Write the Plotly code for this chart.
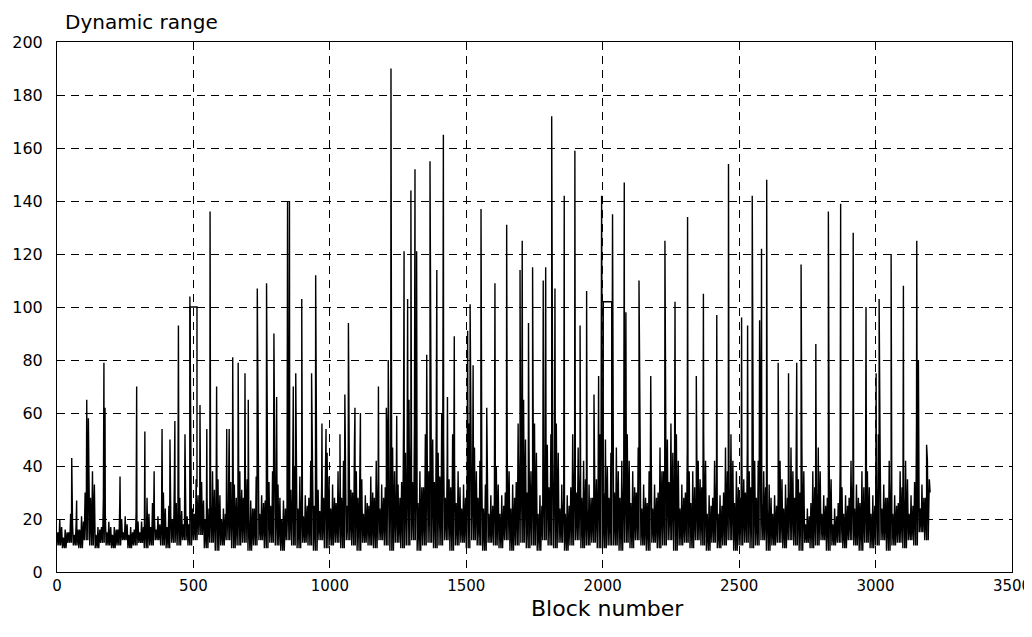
import plotly.graph_objects as go

# Envelope of the dense trace, read per 20-block window:
#   trough = bottom of the trace; body, mid, crest = heights of the ordinary strokes
window_step = 20
trough_values = [
    10, 9, 11, 10, 9, 12, 10, 9, 11, 10, 9, 10, 12, 9, 10, 11, 9, 10, 12, 10,
    9, 11, 10, 12, 10, 12, 14, 9, 11, 8, 10, 12, 9, 10, 11, 8, 10, 12, 9, 11,
    10, 8, 12, 10, 9, 11, 10, 8, 12, 9, 10, 11, 9, 12, 10, 8, 11, 10, 9, 12,
    10, 8, 11, 9, 10, 12, 8, 10, 11, 9, 10, 12, 8, 10, 11, 9, 12, 10, 8, 11,
    10, 9, 12, 8, 10, 11, 9, 10, 8, 12, 10, 9, 11, 8, 10, 12, 9, 10, 11, 9,
    9, 10, 10, 8, 11, 9, 12, 10, 8, 11, 9, 10, 12, 8, 10, 11, 9, 12, 10, 8,
    11, 9, 10, 12, 8, 10, 11, 9, 10, 12, 8, 10, 11, 9, 12, 10, 8, 11, 9, 10,
    12, 8, 10, 11, 9, 12, 10, 8, 11, 9, 10, 12, 8, 10, 11, 9, 12, 10, 15, 12,
    30,
]
body_values = [
    15, 13, 15, 14, 16, 30, 28, 14, 17, 15, 14, 16, 15, 14, 16, 15, 18, 17, 16, 18,
    17, 20, 19, 18, 18, 22, 22, 20, 25, 24, 20, 26, 24, 25, 28, 20, 24, 22, 27, 25,
    23, 20, 25, 27, 24, 21, 28, 25, 23, 28, 24, 26, 28, 25, 30, 28, 22, 25, 28, 24,
    32, 30, 24, 34, 38, 34, 26, 32, 38, 34, 36, 28, 32, 26, 24, 34, 30, 28, 24, 22,
    27, 22, 30, 24, 34, 38, 30, 34, 22, 36, 32, 34, 24, 22, 32, 30, 28, 24, 28, 32,
    30, 28, 30, 28, 32, 26, 30, 24, 26, 24, 30, 38, 34, 32, 24, 30, 26, 28, 32, 22,
    28, 22, 30, 32, 26, 28, 30, 32, 28, 26, 24, 22, 28, 24, 30, 28, 30, 18, 26, 30,
    22, 28, 18, 26, 22, 28, 24, 26, 26, 22, 32, 24, 28, 22, 26, 28, 22, 34, 24, 28,
]
mid_values = [
    17, 15, 18, 16, 19, 38, 33, 16, 22, 17, 16, 20, 18, 15, 19, 17, 22, 21, 18, 24,
    21, 26, 23, 21, 24, 29, 27, 24, 31, 29, 22, 34, 28, 31, 35, 24, 30, 26, 34, 31,
    28, 24, 31, 33, 30, 25, 35, 31, 28, 36, 28, 32, 35, 31, 38, 35, 26, 30, 35, 28,
    42, 38, 28, 45, 50, 44, 32, 42, 50, 45, 48, 35, 42, 32, 28, 45, 38, 35, 28, 25,
    33, 25, 38, 28, 45, 50, 38, 45, 25, 48, 42, 45, 28, 25, 42, 38, 35, 28, 35, 42,
    40, 36, 38, 35, 42, 32, 38, 28, 32, 28, 38, 50, 45, 42, 28, 38, 32, 35, 42, 25,
    35, 25, 38, 42, 32, 35, 38, 42, 35, 32, 28, 25, 35, 28, 38, 35, 38, 21, 32, 38,
    25, 35, 21, 32, 25, 35, 28, 32, 32, 25, 42, 28, 35, 25, 32, 35, 25, 45, 28, 35,
]
crest_values = [
    20, 16, 22, 18, 21, 45, 38, 17, 28, 19, 17, 26, 21, 17, 23, 19, 28, 26, 21, 30,
    25, 33, 28, 24, 30, 35, 34, 28, 38, 35, 24, 42, 33, 38, 42, 27, 36, 29, 42, 38,
    33, 27, 38, 40, 36, 29, 42, 38, 33, 45, 33, 38, 42, 38, 47, 42, 29, 36, 42, 33,
    52, 47, 33, 56, 65, 56, 38, 52, 65, 56, 60, 42, 52, 38, 33, 56, 47, 42, 33, 29,
    40, 29, 47, 33, 56, 65, 47, 56, 29, 60, 52, 56, 33, 29, 52, 47, 42, 33, 42, 52,
    50, 45, 47, 42, 52, 38, 47, 33, 38, 33, 47, 65, 56, 52, 33, 47, 38, 42, 52, 29,
    42, 29, 47, 52, 38, 42, 47, 52, 42, 38, 33, 29, 42, 33, 47, 42, 47, 24, 38, 47,
    29, 42, 24, 38, 29, 42, 33, 38, 38, 29, 52, 33, 42, 29, 38, 42, 29, 56, 33, 42,
]
stroke_offsets = [0, 3, 7, 10, 13, 17]  # blocks within a window: trough, body, trough, crest, trough, mid

# Flat stretches of the trace (held value, with the level the trace leaves/rejoins at)
plateau_starts = [488, 2002]
plateau_ends = [513, 2033]
plateau_values = [100, 102]
plateau_start_bases = [20, 30]
plateau_end_bases = [32, 40]

# Individual spikes
spike_blocks = [
    54, 72, 109, 115, 172, 176, 231, 292, 322, 356, 385, 414, 432, 445, 469, 487, 524,
    549, 561, 585, 622, 631, 644, 664, 689, 701, 734, 768, 795, 805, 845, 852, 866,
    875, 897, 933, 948, 971, 986, 1037, 1055, 1068, 1092, 1112, 1178, 1207, 1214,
    1224, 1245, 1272, 1285, 1297, 1312, 1318, 1355, 1367, 1392, 1416, 1431, 1456,
    1505, 1514, 1525, 1554, 1575, 1605, 1648, 1697, 1705, 1728, 1743, 1782, 1791,
    1813, 1825, 1859, 1898, 1917, 1941, 1968, 1985, 1996, 2036, 2079, 2085, 2133,
    2176, 2228, 2265, 2311, 2343, 2369, 2418, 2461, 2509, 2531, 2548, 2575, 2582,
    2601, 2643, 2681, 2711, 2727, 2781, 2827, 2872, 2918, 2965, 3002, 3013, 3057,
    3102, 3151, 3157, 3187,
]
spike_values = [
    43, 27, 65, 58, 79, 62, 36, 70, 53, 38, 54, 50, 57, 93, 52, 104, 63,
    54, 136, 70, 54, 54, 81, 79, 75, 65, 107, 109, 90, 66, 140, 140, 70,
    75, 103, 75, 112, 56, 54, 52, 67, 94, 62, 60, 70, 62, 80,
    190, 59, 121, 103, 144, 152, 121, 82, 155, 114, 165, 66, 89,
    91, 101, 78, 137, 62, 109, 131, 114, 125, 94, 115, 110, 115,
    172, 107, 142, 159, 93, 106, 67, 74, 142, 135, 147, 98, 110,
    74, 125, 102, 134, 74, 105, 97, 154, 96, 93, 142, 95, 122,
    148, 79, 75, 79, 116, 86, 136, 139, 128, 100, 75, 103, 120,
    108, 125, 80, 48,
]

x_ticks = [0, 500, 1000, 1500, 2000, 2500, 3000, 3500]
y_ticks = [0, 20, 40, 60, 80, 100, 120, 140, 160, 180, 200]

# Assemble the trace from the window readings and the spikes
points = []
n_win = len(crest_values)
for k in range(n_win):
    b0 = k * window_step
    lo = trough_values[k]
    seq = [lo, body_values[k], lo, crest_values[k], lo, mid_values[k]]
    for off, v in zip(stroke_offsets, seq):
        points.append((b0 + off, 0, v))
points.append((n_win * window_step, 0, trough_values[n_win]))
for b, v in zip(spike_blocks, spike_values):
    points.append((b, 1, v))
points.sort(key=lambda p: (p[0], p[1]))
xs = [p[0] for p in points]
ys = [p[2] for p in points]

line_style = dict(color="black", width=1.4)
fig = go.Figure()
fig.add_trace(go.Scatter(x=xs, y=ys, mode="lines", line=line_style, hoverinfo="skip"))
for s, e, v, bs, be in zip(plateau_starts, plateau_ends, plateau_values,
                           plateau_start_bases, plateau_end_bases):
    fig.add_trace(go.Scatter(x=[s, s, e, e], y=[bs, v, v, be], mode="lines",
                             line=line_style, hoverinfo="skip"))

font_family = "DejaVu Sans, Liberation Sans, Arial, sans-serif"
axis_common = dict(
    showline=True, linecolor="black", linewidth=1, mirror=True,
    showgrid=True, gridcolor="black", gridwidth=1, griddash="8px,6px",
    zeroline=False, ticks="", automargin=False,
)
fig.update_xaxes(range=[0, 3500], tickvals=x_ticks, ticktext=[str(t) for t in x_ticks],
                 tickfont=dict(family=font_family, size=15, color="black"), **axis_common)
fig.update_yaxes(range=[0, 200], tickvals=y_ticks, ticktext=[str(t) for t in y_ticks],
                 tickfont=dict(family=font_family, size=16, color="black"),
                 ticklabelstandoff=10, **axis_common)

# The page body adds an 8 px offset, so the figure is sized to fit the window
fig.update_layout(
    width=1024, height=629,
    margin=dict(l=49, r=20, t=34, b=65),
    paper_bgcolor="white", plot_bgcolor="white",
    showlegend=False,
    font=dict(family=font_family, color="black"),
    annotations=[
        dict(text="Dynamic range", xref="paper", yref="paper", x=0.006, y=1.038,
             xanchor="left", yanchor="middle", showarrow=False,
             font=dict(family=font_family, size=20, color="black")),
        dict(text="Block number", xref="paper", yref="paper", x=0.576, y=-0.068,
             xanchor="center", yanchor="middle", showarrow=False,
             font=dict(family=font_family, size=22, color="black")),
    ],
)

fig.write_html("out.html")
